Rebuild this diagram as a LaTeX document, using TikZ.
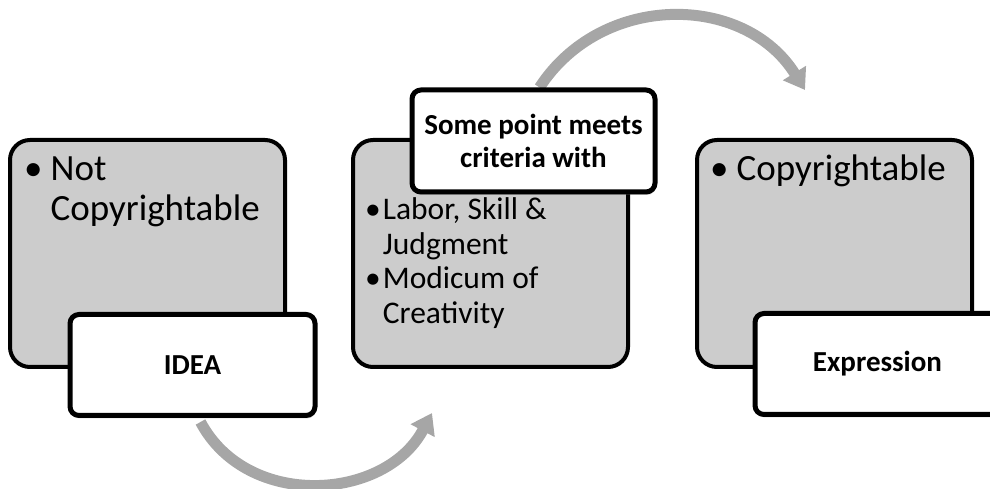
\documentclass[tikz,border=0pt]{standalone}
\usepackage{fontspec}
\setmainfont{Carlito}
\usetikzlibrary{arrows.meta,shadows,backgrounds}

\begin{document}
\begin{tikzpicture}[x=1pt, y=1pt,
  stage/.style={draw, line width=4pt, rounded corners=20pt, fill=gray!40,
    minimum width=275pt, minimum height=227pt},
  tag/.style={draw, line width=5pt, rounded corners=9pt, fill=white,
    minimum width=245pt, minimum height=101pt, align=center,
    font=\fontsize{29}{33}\selectfont\bfseries,
    drop shadow={opacity=0.35, shadow xshift=1pt, shadow yshift=-3pt}},
  pts/.style={inner sep=0pt, anchor=base west},
  flow/.style={line width=11pt, draw=gray!70, -{Triangle[width=26pt, length=20pt]}}]
  \useasboundingbox (0,0) rectangle (990,489);
  \node [stage] (left) at (147.5,235.5) {};
  \node [stage] (mid) at (490.5,235.5) {};
  \node [stage] (right) at (834.5,235.5) {};
  \node [tag] (idea) at (192.5,124) {IDEA};
  \node [tag, minimum width=243pt, minimum height=102pt] (crit) at (533.5,348) {Some point meets\\criteria with};
  \node [tag] (expr) at (877.5,125) {Expression};
  \node [pts, font=\fontsize{37}{40}\selectfont] (lefttxt) at ([shift={(16pt,-43pt)}]left.north west)
    {\begin{tabular}[t]{@{}l@{\hspace{8pt}}l@{}}\textbullet & Not\\ & Copyrightable\end{tabular}};
  \node [pts, font=\fontsize{31.5}{34.5}\selectfont] (midtxt) at ([shift={(14pt,-82pt)}]mid.north west)
    {\begin{tabular}[t]{@{}l@{\hspace{2pt}}l@{}}\textbullet & Labor, Skill \&\\ & Judgment\\
     \textbullet & Modicum of\\ & Creativity\end{tabular}};
  \node [pts, font=\fontsize{37}{40}\selectfont] (righttxt) at ([shift={(15pt,-43pt)}]right.north west)
    {\begin{tabular}[t]{@{}l@{\hspace{8pt}}l@{}}\textbullet & Copyrightable\end{tabular}};
  \coordinate (tipA) at (432,76);
  \coordinate (tipB) at (805,399);
  \begin{scope}[on background layer]
    \draw [flow] ([shift={(8pt,-4pt)}]idea.south) to [out=-62, in=-118, looseness=1.1] (tipA);
    \draw [flow] ([xshift=6pt]crit.north) to [out=57, in=122, looseness=1.1] (tipB);
  \end{scope}
\end{tikzpicture}
\end{document}
